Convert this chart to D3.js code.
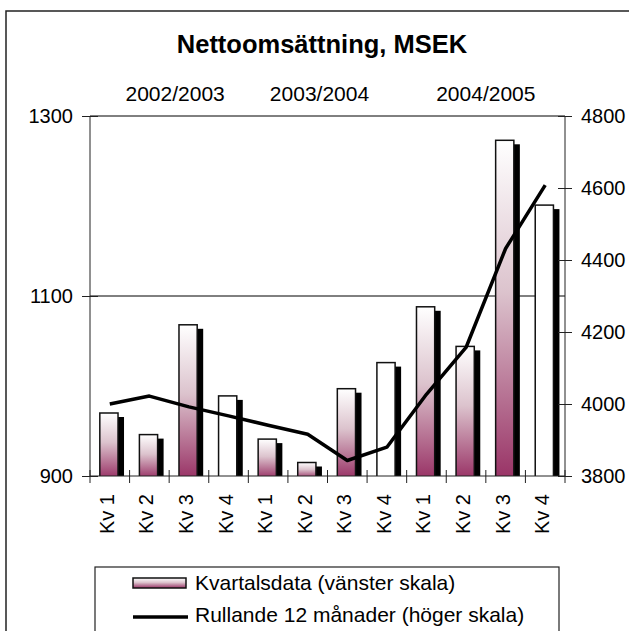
<!DOCTYPE html>
<html>
<head>
<meta charset="utf-8">
<script src="https://cdn.jsdelivr.net/npm/d3@7"></script>
<style>
  html, body { margin: 0; padding: 0; background: #fff; }
  svg { display: block; }
  text { font-family: "Liberation Sans", Arial, sans-serif; fill: #000; }
</style>
</head>
<body>
<script>
// ---- data ----
const title = "Nettoomsättning, MSEK";
const categories = ["Kv 1","Kv 2","Kv 3","Kv 4","Kv 1","Kv 2","Kv 3","Kv 4","Kv 1","Kv 2","Kv 3","Kv 4"];
const periods = ["2002/2003","2003/2004","2004/2005"];
const quarterly = [970, 946, 1068, 989, 941, 915, 997, 1026, 1088, 1044, 1273, 1201];
const rolling = [4000, 4022, 3992, 3967, 3941, 3916, 3843, 3880, 4027, 4157, 4432, 4608];
const leftTicks = [900, 1100, 1300];
const rightTicks = [3800, 4000, 4200, 4400, 4600, 4800];
const seriesNames = ["Kvartalsdata (vänster skala)", "Rullande 12 månader (höger skala)"];

// ---- layout ----
const W = 629, H = 631;
const plot = {left: 90, right: 565, top: 116, bottom: 476};
const periodOffsets = [6, -8, 0];

const svg = d3.select("body").append("svg").attr("width", W).attr("height", H);
const defs = svg.append("defs");
const grad = defs.append("linearGradient").attr("id", "barGrad")
  .attr("x1", 0).attr("y1", 0).attr("x2", 0).attr("y2", 1);
grad.append("stop").attr("offset", "0%").attr("stop-color", "#ffffff");
grad.append("stop").attr("offset", "45%").attr("stop-color", "#dcc3cd");
grad.append("stop").attr("offset", "100%").attr("stop-color", "#993366");
defs.append("clipPath").attr("id", "plotClip").append("rect")
  .attr("x", plot.left).attr("y", plot.top)
  .attr("width", plot.right - plot.left).attr("height", plot.bottom - plot.top);

svg.append("rect").attr("width", W).attr("height", H).attr("fill", "#fff");
// outer chart border (extends past the cropped right/bottom edges)
svg.append("rect").attr("x", 6).attr("y", 11).attr("width", 700).attr("height", 700)
  .attr("fill", "none").attr("stroke", "#222").attr("stroke-width", 1.5);

// scales
const x = d3.scaleBand().domain(d3.range(categories.length)).range([plot.left, plot.right]).padding(0);
const yL = d3.scaleLinear().domain([900, 1300]).range([plot.bottom, plot.top]);
const yR = d3.scaleLinear().domain([3800, 4800]).range([plot.bottom, plot.top]);
const step = x.step();

// title
svg.append("text").attr("x", 322).attr("y", 53).attr("text-anchor", "middle")
  .style("font-size", "25.5px").style("font-weight", "bold").text(title);

// period labels
periods.forEach((p, k) => {
  const cx = (x(k * 4) + x(k * 4 + 3) + step) / 2 + periodOffsets[k];
  svg.append("text").attr("x", cx).attr("y", 101).attr("text-anchor", "middle")
    .style("font-size", "21px").text(p);
});

// gridlines
svg.append("g").selectAll("line").data(leftTicks.filter(t => t > 900)).join("line")
  .attr("x1", plot.left).attr("x2", plot.right)
  .attr("y1", d => yL(d)).attr("y2", d => yL(d))
  .attr("stroke", "#000").attr("stroke-width", 1);

// bars with shadows
const bars = svg.append("g").attr("clip-path", "url(#plotClip)");
const bx = i => x(i) + step * 0.248;
const bw = step * 0.46;
bars.selectAll("rect.shadow").data(quarterly).join("rect").attr("class", "shadow")
  .attr("x", (d, i) => bx(i) + 6).attr("y", d => yL(d) + 4)
  .attr("width", bw).attr("height", d => plot.bottom - yL(d) + 10)
  .attr("fill", "#000");
bars.selectAll("rect.bar").data(quarterly).join("rect").attr("class", "bar")
  .attr("x", (d, i) => bx(i)).attr("y", d => yL(d))
  .attr("width", bw).attr("height", d => plot.bottom - yL(d) + 2)
  .attr("fill", (d, i) => categories[i] === "Kv 4" ? "#ffffff" : "url(#barGrad)")
  .attr("stroke", "#111").attr("stroke-width", 1.5);

// axes
const axisColor = "#222";
const gL = svg.append("g").attr("transform", `translate(${plot.left},0)`)
  .call(d3.axisLeft(yL).tickValues(leftTicks).tickSize(8).tickPadding(10).tickFormat(d3.format("d")));
gL.selectAll(".tick line").attr("x2", 8).attr("x1", -8).attr("stroke", axisColor);
gL.select(".domain").remove();
gL.append("line").attr("x1", 0).attr("x2", 0).attr("y1", plot.top).attr("y2", plot.bottom).attr("stroke", axisColor);
gL.selectAll(".tick text").attr("x", -17).style("font-size", "20px")
  .style("font-family", "'Liberation Sans', Arial, sans-serif").attr("fill", "#000");

const gR = svg.append("g").attr("transform", `translate(${plot.right},0)`)
  .call(d3.axisRight(yR).tickValues(rightTicks).tickSize(7).tickPadding(10).tickFormat(d3.format("d")));
gR.selectAll(".tick line").attr("x1", -7).attr("x2", 7).attr("stroke", axisColor);
gR.select(".domain").remove();
gR.append("line").attr("x1", 0).attr("x2", 0).attr("y1", plot.top).attr("y2", plot.bottom).attr("stroke", axisColor);
gR.selectAll(".tick text").attr("x", 16).style("font-size", "20px")
  .style("font-family", "'Liberation Sans', Arial, sans-serif").attr("fill", "#000");

// bottom axis
const gB = svg.append("g");
gB.append("line").attr("x1", plot.left).attr("x2", plot.right)
  .attr("y1", plot.bottom).attr("y2", plot.bottom).attr("stroke", axisColor);
gB.selectAll("line.tk").data(d3.range(categories.length + 1)).join("line").attr("class", "tk")
  .attr("x1", i => plot.left + i * step).attr("x2", i => plot.left + i * step)
  .attr("y1", plot.bottom - 6).attr("y2", plot.bottom + 7).attr("stroke", axisColor);
gB.selectAll("text").data(categories).join("text")
  .attr("transform", (d, i) => `translate(${x(i) + step / 2 + 4},494) rotate(-90)`)
  .attr("text-anchor", "end").style("font-size", "20px").text(d => d);

// rolling line
const line = d3.line().x((d, i) => x(i) + step / 2).y(d => yR(d));
svg.append("path").datum(rolling).attr("d", line)
  .attr("fill", "none").attr("stroke", "#000").attr("stroke-width", 3.5)
  .attr("stroke-linejoin", "round");

// legend
const lg = svg.append("g");
lg.append("rect").attr("x", 95).attr("y", 567).attr("width", 464).attr("height", 120)
  .attr("fill", "#fff").attr("stroke", "#222").attr("stroke-width", 1.2);
lg.append("rect").attr("x", 133).attr("y", 578).attr("width", 53).attr("height", 10)
  .attr("fill", "url(#barGrad)").attr("stroke", "#111").attr("stroke-width", 1.5);
lg.append("line").attr("x1", 133).attr("x2", 188).attr("y1", 617).attr("y2", 617)
  .attr("stroke", "#000").attr("stroke-width", 3.5);
lg.append("text").attr("x", 195).attr("y", 590).style("font-size", "21px").text(seriesNames[0]);
lg.append("text").attr("x", 195).attr("y", 622).style("font-size", "21px").text(seriesNames[1]);
</script>
</body>
</html>
